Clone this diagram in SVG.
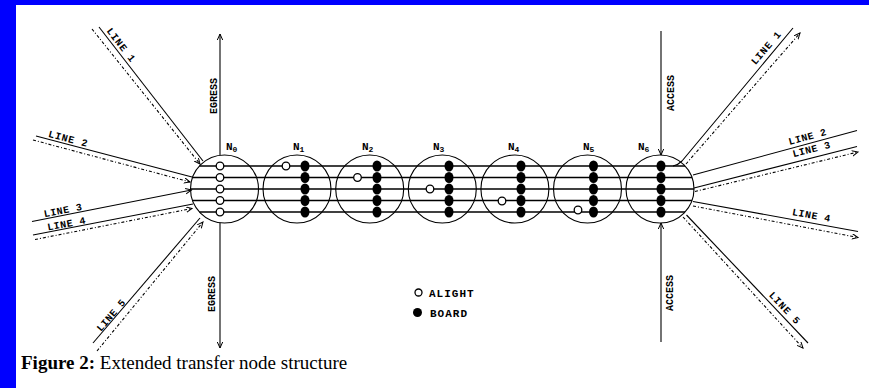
<svg xmlns="http://www.w3.org/2000/svg" width="869" height="388" viewBox="0 0 869 388">
<style>
.nc{fill:none;stroke:#000;stroke-width:1.1}
.ln{stroke:#000;stroke-width:1.1;fill:none}
.hl{stroke:#000;stroke-width:1.3;fill:none}
.dl{stroke:#000;stroke-width:1.1;fill:none;stroke-dasharray:3 2 1 2}
.al{fill:#fff;stroke:#000;stroke-width:1.3}
.bd{fill:#000}
.lbl{font-family:"Liberation Mono",monospace;font-size:10px;font-weight:bold;fill:#000;text-anchor:middle}
.nl{font-family:"Liberation Mono",monospace;font-size:11px;font-weight:bold;fill:#000}
.cap{font-family:"Liberation Serif","Times New Roman",serif;font-size:19px;fill:#000}
</style>
<defs>
<marker id="ah" markerUnits="userSpaceOnUse" markerWidth="8" markerHeight="8" refX="6" refY="3" orient="auto">
<path d="M0,0.3 L6,3 L0,5.7" fill="none" stroke="#000" stroke-width="1"/>
</marker>
</defs>
<rect x="0" y="0" width="869" height="388" fill="#fff"/>
<rect x="0" y="0" width="869" height="5" fill="#0000FF"/>
<rect x="0" y="0" width="16" height="388" fill="#0000FF"/>

<g id="connectors">
<!-- horizontal lines through nodes -->
<line class="hl" x1="199.5" y1="166" x2="685" y2="166"/>
<line class="hl" x1="192.5" y1="177.5" x2="692" y2="177.5"/>
<line class="hl" x1="190.5" y1="189" x2="694" y2="189"/>
<line class="hl" x1="192.5" y1="200.5" x2="692" y2="200.5"/>
<line class="hl" x1="199.5" y1="212" x2="685" y2="212"/>
<!-- egress / access -->
<line class="ln" x1="220" y1="155" x2="220" y2="34" marker-end="url(#ah)"/>
<line class="ln" x1="220" y1="223" x2="220" y2="348" marker-end="url(#ah)"/>
<line class="ln" x1="661" y1="31" x2="661" y2="155" marker-end="url(#ah)"/>
<line class="ln" x1="661" y1="342" x2="661" y2="223" marker-end="url(#ah)"/>
<!-- left lines -->
<line class="ln" x1="99" y1="27" x2="203" y2="161"/>
<line class="dl" x1="92" y1="29" x2="200" y2="164" marker-end="url(#ah)"/>
<line class="ln" x1="36" y1="136" x2="192" y2="177"/>
<line class="dl" x1="33" y1="140" x2="190" y2="182" marker-end="url(#ah)"/>
<line class="ln" x1="32" y1="221.5" x2="191.5" y2="190" marker-end="url(#ah)"/>
<line class="ln" x1="33" y1="235" x2="193" y2="204"/>
<line class="dl" x1="35" y1="239.5" x2="192" y2="208.5" marker-end="url(#ah)"/>
<line class="ln" x1="93" y1="343" x2="200" y2="218"/>
<line class="dl" x1="97" y1="351" x2="203" y2="222" marker-end="url(#ah)"/>
<!-- right lines -->
<path class="ln" d="M673,166 Q678,165 682,161 L793,28"/>
<line class="dl" x1="686" y1="164" x2="800" y2="33" marker-end="url(#ah)"/>
<line class="ln" x1="693" y1="175" x2="857" y2="130.5"/>
<line class="ln" x1="694" y1="188" x2="857" y2="146.5"/>
<line class="dl" x1="695" y1="191.5" x2="858" y2="152" marker-end="url(#ah)"/>
<line class="ln" x1="693" y1="201.5" x2="858" y2="231.5"/>
<line class="dl" x1="693" y1="206" x2="858" y2="237.5" marker-end="url(#ah)"/>
<line class="ln" x1="686.5" y1="215" x2="808" y2="343"/>
<line class="dl" x1="683" y1="217" x2="803" y2="348" marker-end="url(#ah)"/>
</g>

<g id="line-labels">
<text class="lbl" transform="translate(121.5,45) rotate(52)" y="3.5" letter-spacing="0.8">LINE 1</text>
<text class="lbl" transform="translate(68.5,138.5) rotate(14.6)" y="3.5" letter-spacing="0.8">LINE 2</text>
<text class="lbl" transform="translate(63,210) rotate(-11.2)" y="3.5" letter-spacing="0.5">LINE 3</text>
<text class="lbl" transform="translate(66.5,223.5) rotate(-10.6)" y="3.5" letter-spacing="0.5">LINE 4</text>
<text class="lbl" transform="translate(111,315) rotate(-49.4)" y="3.5" letter-spacing="0.5">LINE 5</text>
<text class="lbl" transform="translate(766,47.5) rotate(-49.7)" y="3.5" letter-spacing="0.8">LINE 1</text>
<text class="lbl" transform="translate(807.5,136.5) rotate(-15.3)" y="3.5" letter-spacing="0.5">LINE 2</text>
<text class="lbl" transform="translate(811.5,149) rotate(-14.3)" y="3.5" letter-spacing="0.5">LINE 3</text>
<text class="lbl" transform="translate(811.5,215) rotate(10.3)" y="3.5" letter-spacing="0.5">LINE 4</text>
<text class="lbl" transform="translate(785,308) rotate(46.5)" y="3.5" letter-spacing="0.8">LINE 5</text>
<text class="lbl" transform="translate(213.5,96) rotate(-90)" y="3.5">EGRESS</text>
<text class="lbl" transform="translate(211.5,294) rotate(-90)" y="3.5">EGRESS</text>
<text class="lbl" transform="translate(670,93) rotate(-90)" y="3.5">ACCESS</text>
<text class="lbl" transform="translate(669.5,293) rotate(-90)" y="3.5">ACCESS</text>
</g>

<g id="n0">
<circle class="nc" cx="224.5" cy="189" r="34"/>
<text class="nl" x="226" y="150">N<tspan font-size="8" dy="2">0</tspan></text>
<circle class="al" cx="220" cy="166" r="3.8"/>
<circle class="al" cx="220" cy="177.5" r="3.8"/>
<circle class="al" cx="220" cy="189" r="3.8"/>
<circle class="al" cx="220" cy="200.5" r="3.8"/>
<circle class="al" cx="220" cy="212" r="3.8"/>
</g>

<g id="n1">
<circle class="nc" cx="297" cy="189" r="34"/>
<text class="nl" x="293" y="150">N<tspan font-size="8" dy="2">1</tspan></text>
<circle class="al" cx="286" cy="166" r="3.8"/>
<ellipse class="bd" cx="305" cy="166" rx="4.5" ry="5.6"/>
<ellipse class="bd" cx="305" cy="177.5" rx="4.5" ry="5.6"/>
<ellipse class="bd" cx="305" cy="189" rx="4.5" ry="5.6"/>
<ellipse class="bd" cx="305" cy="200.5" rx="4.5" ry="5.6"/>
<ellipse class="bd" cx="305" cy="212" rx="4.5" ry="5.6"/>
</g>

<g id="n2">
<circle class="nc" cx="369.7" cy="189" r="34"/>
<text class="nl" x="362" y="150">N<tspan font-size="8" dy="2">2</tspan></text>
<circle class="al" cx="357.5" cy="177.5" r="3.8"/>
<ellipse class="bd" cx="377" cy="166" rx="4.5" ry="5.6"/>
<ellipse class="bd" cx="377" cy="177.5" rx="4.5" ry="5.6"/>
<ellipse class="bd" cx="377" cy="189" rx="4.5" ry="5.6"/>
<ellipse class="bd" cx="377" cy="200.5" rx="4.5" ry="5.6"/>
<ellipse class="bd" cx="377" cy="212" rx="4.5" ry="5.6"/>
</g>

<g id="n3">
<circle class="nc" cx="442.3" cy="189" r="34"/>
<text class="nl" x="433" y="150">N<tspan font-size="8" dy="2">3</tspan></text>
<circle class="al" cx="430" cy="189" r="3.8"/>
<ellipse class="bd" cx="449" cy="166" rx="4.5" ry="5.6"/>
<ellipse class="bd" cx="449" cy="177.5" rx="4.5" ry="5.6"/>
<ellipse class="bd" cx="449" cy="189" rx="4.5" ry="5.6"/>
<ellipse class="bd" cx="449" cy="200.5" rx="4.5" ry="5.6"/>
<ellipse class="bd" cx="449" cy="212" rx="4.5" ry="5.6"/>
</g>

<g id="n4">
<circle class="nc" cx="514.9" cy="189" r="34"/>
<text class="nl" x="508" y="150">N<tspan font-size="8" dy="2">4</tspan></text>
<circle class="al" cx="502" cy="201" r="3.8"/>
<ellipse class="bd" cx="521" cy="166" rx="4.5" ry="5.6"/>
<ellipse class="bd" cx="521" cy="177.5" rx="4.5" ry="5.6"/>
<ellipse class="bd" cx="521" cy="189" rx="4.5" ry="5.6"/>
<ellipse class="bd" cx="521" cy="200.5" rx="4.5" ry="5.6"/>
<ellipse class="bd" cx="521" cy="212" rx="4.5" ry="5.6"/>
</g>

<g id="n5">
<circle class="nc" cx="587.5" cy="189" r="34"/>
<text class="nl" x="583" y="150">N<tspan font-size="8" dy="2">5</tspan></text>
<circle class="al" cx="578" cy="210" r="3.8"/>
<ellipse class="bd" cx="593.5" cy="166" rx="4.5" ry="5.6"/>
<ellipse class="bd" cx="593.5" cy="177.5" rx="4.5" ry="5.6"/>
<ellipse class="bd" cx="593.5" cy="189" rx="4.5" ry="5.6"/>
<ellipse class="bd" cx="593.5" cy="200.5" rx="4.5" ry="5.6"/>
<ellipse class="bd" cx="593.5" cy="212" rx="4.5" ry="5.6"/>
</g>

<g id="n6">
<circle class="nc" cx="660" cy="189" r="34"/>
<text class="nl" x="638" y="150">N<tspan font-size="8" dy="2">6</tspan></text>
<ellipse class="bd" cx="661" cy="166" rx="4.5" ry="5.6"/>
<ellipse class="bd" cx="661" cy="177.5" rx="4.5" ry="5.6"/>
<ellipse class="bd" cx="661" cy="189" rx="4.5" ry="5.6"/>
<ellipse class="bd" cx="661" cy="200.5" rx="4.5" ry="5.6"/>
<ellipse class="bd" cx="661" cy="212" rx="4.5" ry="5.6"/>
</g>

<g id="legend">
<circle class="al" cx="418.5" cy="292.5" r="3.5"/>
<text class="nl" x="429" y="297" letter-spacing="1">ALIGHT</text>
<circle class="bd" cx="417.5" cy="312.5" r="4.5"/>
<text class="nl" x="430" y="317" letter-spacing="1">BOARD</text>
</g>

<text class="cap" x="21" y="369"><tspan font-weight="bold">Figure 2:</tspan> Extended transfer node structure</text>
</svg>
